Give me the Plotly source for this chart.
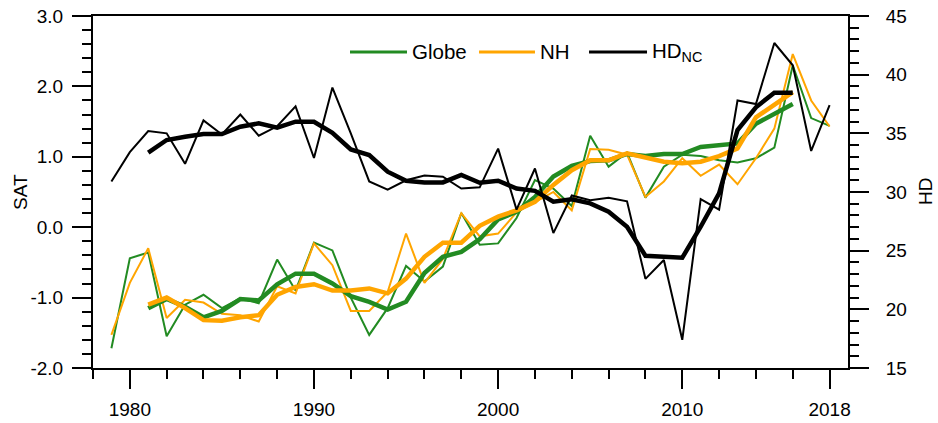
import plotly.graph_objects as go

years = list(range(1979, 2019))
years_smooth = list(range(1981, 2017))

globe = [-1.72, -0.44, -0.36, -1.55, -1.10, -0.96, -1.15, -1.01, -1.08, -0.46,
         -0.90, -0.22, -0.33, -1.00, -1.53, -1.15, -0.55, -0.77, -0.56, 0.20,
         -0.25, -0.23, 0.13, 0.67, 0.55, 0.30, 1.30, 0.86, 1.06, 0.42,
         0.86, 1.03, 1.01, 0.95, 0.92, 0.98, 1.13, 2.30, 1.55, 1.44]
nh = [-1.53, -0.79, -0.30, -1.29, -1.03, -1.07, -1.23, -1.25, -1.34, -0.84,
      -0.94, -0.23, -0.54, -1.19, -1.19, -0.92, -0.09, -0.79, -0.45, 0.20,
      -0.13, -0.09, 0.21, 0.36, 0.50, 0.24, 1.11, 1.10, 1.03, 0.43,
      0.65, 0.98, 0.73, 0.89, 0.61, 0.98, 1.40, 2.46, 1.80, 1.43]
hd = [30.9, 33.4, 35.2, 35.0, 32.4, 36.1, 34.9, 36.6, 34.8, 35.6,
      37.3, 32.9, 38.9, 35.0, 30.9, 30.2, 31.0, 31.4, 31.3, 30.3,
      30.4, 33.7, 28.5, 32.0, 26.5, 29.7, 29.3, 29.5, 29.2, 22.6,
      24.2, 17.4, 29.4, 28.5, 37.8, 37.5, 42.7, 40.8, 33.5, 37.4]

globe_smooth = [-1.15, -1.02, -1.13, -1.28, -1.19, -1.02, -1.04, -0.81,
                -0.66, -0.66, -0.80, -0.98, -1.06, -1.17, -1.06, -0.65, -0.42, -0.35,
                -0.17, 0.11, 0.22, 0.43, 0.72, 0.87, 0.94, 0.95, 1.04, 1.01,
                1.04, 1.04, 1.14, 1.17, 1.19, 1.47, 1.61, 1.75]
nh_smooth = [-1.10, -1.00, -1.15, -1.32, -1.33, -1.28, -1.25, -0.96,
             -0.85, -0.81, -0.90, -0.90, -0.87, -0.94, -0.73, -0.42, -0.22, -0.22,
             0.02, 0.15, 0.24, 0.36, 0.60, 0.81, 0.95, 0.95, 1.05, 0.99,
             0.93, 0.91, 0.93, 1.01, 1.12, 1.56, 1.74, 1.92]
hd_smooth = [33.35, 34.43, 34.71, 34.94, 34.94, 35.56, 35.85, 35.48,
             35.99, 35.99, 35.05, 33.63, 33.15, 31.73, 30.96, 30.82, 30.82, 31.45,
             30.79, 30.96, 30.30, 30.10, 29.17, 29.37, 29.03, 28.32, 27.04, 24.57,
             24.48, 24.40, 27.04, 29.88, 35.28, 37.22, 38.46, 38.46]

x_tickvals = [1980, 1990, 2000, 2010, 2018]
x_ticktext = ["1980", "1990", "2000", "2010", "2018"]
sat_tickvals = [-2, -1, 0, 1, 2, 3]
sat_ticktext = ["-2.0", "-1.0", "0.0", "1.0", "2.0", "3.0"]
hd_tickvals = [15, 20, 25, 30, 35, 40, 45]

legend_names = ["Globe", "NH", "HD<sub>NC</sub>"]
GREEN = "#228B22"
ORANGE = "#FFA500"
BLACK = "#000000"
legend_colors = [GREEN, ORANGE, BLACK]
FONT = "Liberation Sans, Arial, Helvetica, sans-serif"

fig = go.Figure()
fig.add_trace(go.Scatter(x=years, y=globe, mode="lines", name="Globe", showlegend=False,
                         line=dict(color=GREEN, width=2)))
fig.add_trace(go.Scatter(x=years, y=nh, mode="lines", name="NH", showlegend=False,
                         line=dict(color=ORANGE, width=2)))
fig.add_trace(go.Scatter(x=years_smooth, y=globe_smooth, mode="lines", showlegend=False,
                         line=dict(color=GREEN, width=4.5)))
fig.add_trace(go.Scatter(x=years_smooth, y=nh_smooth, mode="lines", showlegend=False,
                         line=dict(color=ORANGE, width=4.5)))
fig.add_trace(go.Scatter(x=years, y=hd, mode="lines", name="HD", showlegend=False,
                         line=dict(color=BLACK, width=2), yaxis="y2"))
fig.add_trace(go.Scatter(x=years_smooth, y=hd_smooth, mode="lines", showlegend=False,
                         line=dict(color=BLACK, width=4.5), yaxis="y2"))

axis_common = dict(showgrid=False, zeroline=False, showline=True, linecolor="black",
                   linewidth=2, ticks="outside", ticklen=19, tickwidth=2,
                   tickcolor="black", automargin=False, ticklabeloverflow="allow",
                   tickfont=dict(family=FONT, size=19, color="black"))

# manual legend (key lines + labels), in paper coordinates of the plot area
legend_line_x = [(0.3404, 0.4159), (0.5113, 0.5854), (0.6570, 0.7338)]
legend_y = 0.898
shapes = []
annotations = []
for name, color, (xa, xb) in zip(legend_names, legend_colors, legend_line_x):
    shapes.append(dict(type="line", xref="paper", yref="paper", x0=xa, x1=xb,
                       y0=legend_y, y1=legend_y, line=dict(color=color, width=3)))
    annotations.append(dict(xref="paper", yref="paper", x=xb + 0.004, y=legend_y,
                            xanchor="left", yanchor="middle", showarrow=False,
                            text=name, font=dict(family=FONT, size=20.5, color="black")))

annotations.append(dict(xref="paper", yref="paper", x=-0.0967, y=0.5, textangle=-90,
                        xanchor="center", yanchor="middle", showarrow=False, text="SAT",
                        font=dict(family=FONT, size=19, color="black")))
annotations.append(dict(xref="paper", yref="paper", x=1.102, y=0.5, textangle=-90,
                        xanchor="center", yanchor="middle", showarrow=False, text="HD",
                        font=dict(family=FONT, size=19, color="black")))

fig.update_layout(
    width=938, height=423,
    margin=dict(l=93, r=90, t=16, b=55, autoexpand=False),
    paper_bgcolor="white", plot_bgcolor="white",
    font=dict(family=FONT, size=19, color="black"),
    showlegend=False,
    xaxis=dict(range=[1978, 2019], tickvals=x_tickvals, ticktext=x_ticktext,
               mirror=True, ticklabelstandoff=4,
               minor=dict(tick0=1978, dtick=2, ticks="outside", ticklen=9,
                          tickwidth=1.5, tickcolor="black"),
               **axis_common),
    yaxis=dict(range=[-2, 3], tickvals=sat_tickvals, ticktext=sat_ticktext,
               ticklabelstandoff=5,
               minor=dict(tick0=-2, dtick=0.2, ticks="outside", ticklen=9,
                          tickwidth=1.5, tickcolor="black"),
               **axis_common),
    yaxis2=dict(range=[15, 45], tickvals=hd_tickvals, overlaying="y", side="right",
                ticklabelstandoff=13,
                minor=dict(tick0=15, dtick=1, ticks="outside", ticklen=9,
                           tickwidth=1.5, tickcolor="black"),
                **axis_common),
    shapes=shapes,
    annotations=annotations,
)

fig.write_html("out.html", config={"displayModeBar": False},
               post_script="document.body.style.margin='0';document.body.style.overflow='hidden';")
